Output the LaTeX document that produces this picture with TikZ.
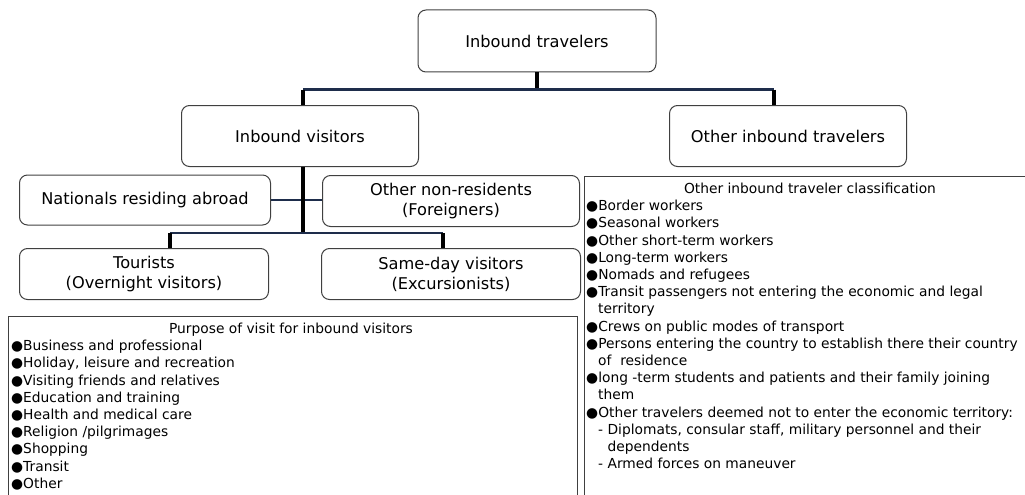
\documentclass[tikz,border=0pt]{standalone}
\usepackage{fontspec}
\setmainfont{DejaVu Sans}
\usepackage{tikz}
\usetikzlibrary{
	positioning,
	calc
}

\begin{document}
\begin{tikzpicture}[
		x=1pt, y=-1pt,
		box/.style={draw=black!75, rounded corners=8pt, line width=1pt, align=center, font=\fontsize{16.2}{20}\selectfont},
		listbox/.style={draw=black!75, line width=1pt},
		listtext/.style={align=left, anchor=north west, inner sep=0pt, font=\fontsize{13.8}{17.2}\selectfont},
		trunk/.style={line width=4pt, black},
		branch/.style={line width=2.5pt, color={rgb,255:red,30;green,45;blue,75}}
		]
		\useasboundingbox (0,0) rectangle (1025,495);
		
		% Nodes
		\node[box, minimum width=238pt, minimum height=62pt] (travelers) at (537,41) {Inbound travelers};
		\node[box, minimum width=237pt, minimum height=61pt] (visitors) at (300,136) {Inbound visitors};
		\node[box, minimum width=237pt, minimum height=61pt] (othertrav) at (788,136) {Other inbound travelers};
		
		\node[box, minimum width=251pt, minimum height=50pt] (nationals) at (145,200) {Nationals residing abroad};
		\node[box, minimum width=257pt, minimum height=51pt] (nonres) at (451,201) {Other non-residents\\(Foreigners)};
		\node[box, minimum width=249pt, minimum height=51pt] (tourists) at (144,274) {Tourists\\(Overnight visitors)};
		\node[box, minimum width=259pt, minimum height=51pt] (sameday) at (451,274) {Same-day visitors\\(Excursionists)};
		
		% Lists
		\draw[listbox] (8,520) -- (8,316) -- (577,316) -- (577,520);
		\node[listtext, anchor=north] (purposehead) at (291,323) {Purpose of visit for inbound visitors};
		\node[listtext] (purposelist) at (11,340) {%
			●Business and professional\\
			●Holiday, leisure and recreation\\
			●Visiting friends and relatives\\
			●Education and training\\
			●Health and medical care\\
			●Religion /pilgrimages\\
			●Shopping\\
			●Transit\\
			●Other};
		
		\draw[listbox] (584,520) -- (584,176) -- (1040,176);
		\node[listtext, anchor=north] (classhead) at (810,183) {Other inbound traveler classification};
		\node[listtext] (classlist) at (586,200) {%
			●Border workers\\
			●Seasonal workers\\
			●Other short-term workers\\
			●Long-term workers\\
			●Nomads and refugees\\
			●Transit passengers not entering the economic and legal\\
			\hphantom{●}territory\\
			●Crews on public modes of transport\\
			●Persons entering the country to establish there their country\\
			\hphantom{●}of~ residence\\
			●long -term students and patients and their family joining\\
			\hphantom{●}them\\
			●Other travelers deemed not to enter the economic territory:\\
			\hphantom{●}- Diplomats, consular staff, military personnel and their\\
			\hphantom{●- }dependents\\
			\hphantom{●}- Armed forces on maneuver};
		
		% Connectors
		\coordinate (topjoin) at ($(travelers.south)+(0,17)$);
		\coordinate (leftdrop) at ([xshift=3pt]visitors.north |- topjoin);
		\coordinate (rightdrop) at ([xshift=-14pt]othertrav.north |- topjoin);
		\draw[trunk] (travelers.south) -- (topjoin);
		\draw[branch] (leftdrop) -- (rightdrop);
		\draw[trunk] (leftdrop) -- (leftdrop |- visitors.north);
		\draw[trunk] (rightdrop) -- (rightdrop |- othertrav.north);
		
		\draw[branch] (nationals.east) -- (nonres.west |- nationals.east);
		\coordinate (midjoin) at ($(leftdrop |- visitors.south)+(0,66)$);
		\draw[trunk] (leftdrop |- visitors.south) -- (midjoin);
		\coordinate (tourdrop) at ([xshift=26pt]tourists.north |- midjoin);
		\coordinate (samedrop) at ([xshift=-8pt]sameday.north |- midjoin);
		\draw[branch] (tourdrop) -- (samedrop);
		\draw[trunk] (tourdrop) -- (tourdrop |- tourists.north);
		\draw[trunk] (samedrop) -- (samedrop |- sameday.north);
		
	\end{tikzpicture}
\end{document}
